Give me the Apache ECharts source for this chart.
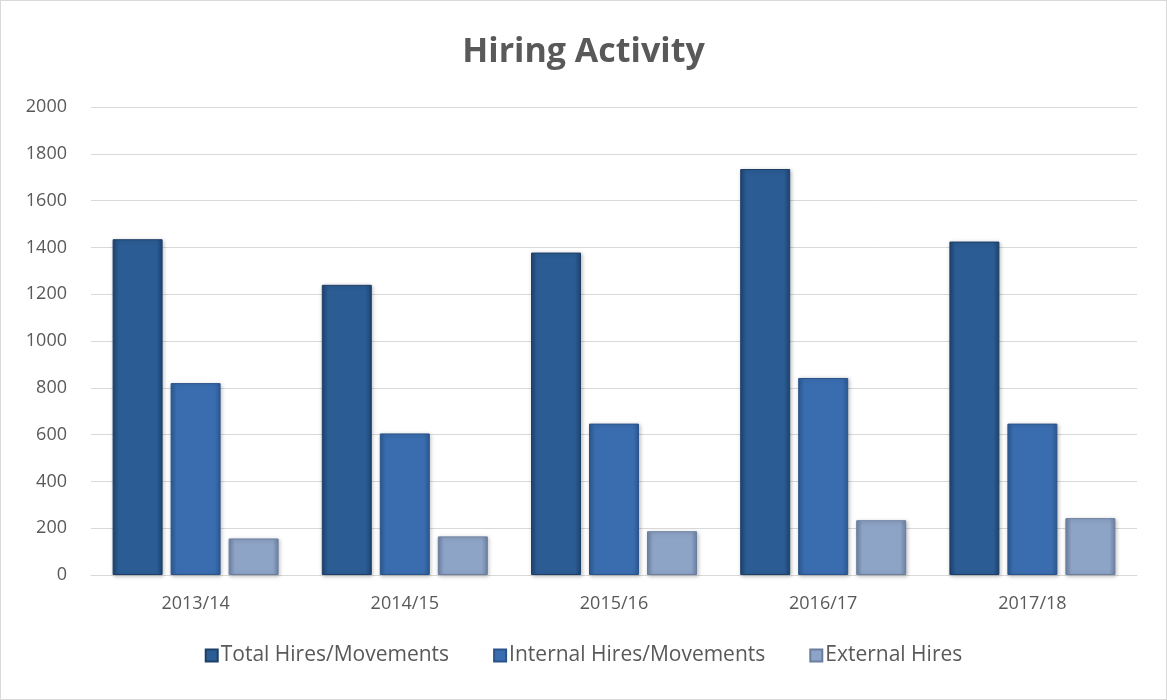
<!DOCTYPE html>
<html><head><meta charset="utf-8">
<script src="https://cdn.jsdelivr.net/npm/echarts@6/dist/echarts.min.js"></script>
<style>html,body{margin:0;padding:0;background:#fff}#c{width:1167px;height:700px;box-sizing:border-box;border:1px solid #d9d9d9}</style>
</head><body><div id="c"></div>
<script>
const categories = ['2013/14','2014/15','2015/16','2016/17','2017/18'];
const totalHires = [1435, 1240, 1378, 1735, 1425];
const internalHires = [820, 605, 647, 842, 647];
const externalHires = [156, 165, 187, 234, 243];
const yTicks = [0, 200, 400, 600, 800, 1000, 1200, 1400, 1600, 1800, 2000];

function grad(edge, mid) {
  return new echarts.graphic.LinearGradient(0, 0, 1, 0, [
    {offset: 0, color: edge}, {offset: 0.12, color: mid}, {offset: 0.88, color: mid}, {offset: 1, color: edge}
  ]);
}
const chart = echarts.init(document.getElementById('c'), null, {renderer: 'canvas'});
const font = '"Open Sans", "Noto Sans", sans-serif';
function mk(name, data, edge, mid, border) {
  return {
    name, type: 'bar', data, barWidth: 50, barGap: '16%',
    itemStyle: {color: grad(edge, mid), borderColor: border, borderWidth: 1,
      shadowColor: 'rgba(0,0,0,0.25)', shadowBlur: 4, shadowOffsetX: 1, shadowOffsetY: 1}
  };
}
chart.setOption({
  animation: false,
  title: {text: 'Hiring Activity', left: 'center', top: 29,
    textStyle: {fontFamily: font, fontSize: 34, fontWeight: 'bold', color: '#595959'}},
  legend: {bottom: 28, icon: 'rect', itemWidth: 12, itemHeight: 12, itemGap: 44,
    textStyle: {fontFamily: font, fontSize: 21, color: '#595959', padding: [0, 0, 0, -2]},
    data: ['Total Hires/Movements', 'Internal Hires/Movements', 'External Hires']},
  grid: {left: 90, right: 29, top: 106, bottom: 124, containLabel: false},
  xAxis: {type: 'category', data: categories,
    axisLine: {lineStyle: {color: '#d9d9d9', width: 1}}, axisTick: {show: false},
    axisLabel: {fontFamily: font, fontSize: 18, color: '#595959', margin: 20}},
  yAxis: {type: 'value', min: yTicks[0], max: yTicks[yTicks.length - 1], interval: 200,
    axisLine: {show: false}, axisTick: {show: false},
    splitLine: {lineStyle: {color: '#d9d9d9', width: 1}},
    axisLabel: {fontFamily: font, fontSize: 18, color: '#595959', margin: 24,
      formatter: v => String(v)}},
  series: [
    mk('Total Hires/Movements', totalHires, '#1f4470', '#2b5c94', '#1d3f68'),
    mk('Internal Hires/Movements', internalHires, '#2d5a94', '#3a6db0', '#2a5489'),
    mk('External Hires', externalHires, '#6e83a6', '#8ea4c6', '#6a7e9f')
  ]
});
</script></body></html>
